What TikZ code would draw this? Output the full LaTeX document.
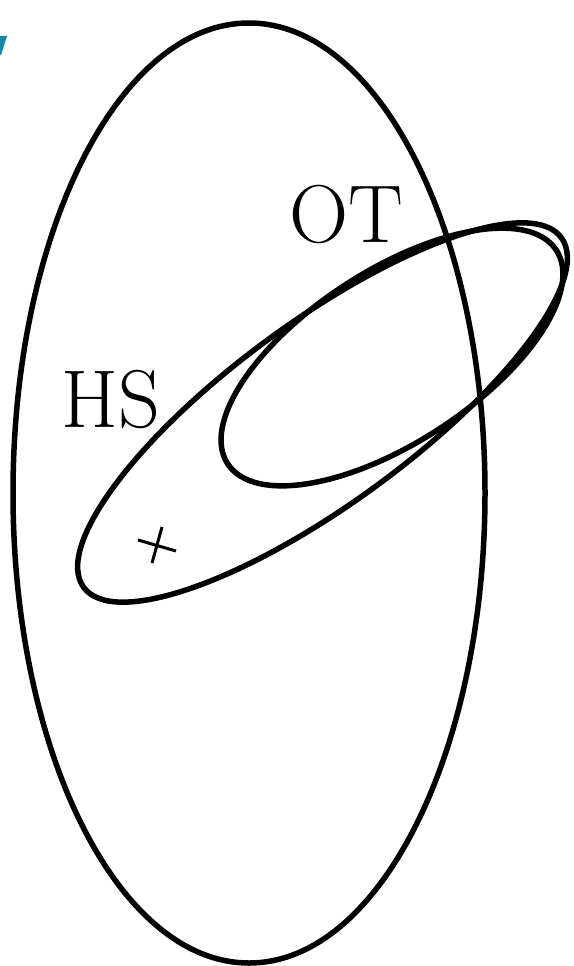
\documentclass[tikz,border=0pt]{standalone}
\usepackage{tikz}
\usetikzlibrary{calc}
\definecolor{fragblue}{RGB}{20,135,168}

\begin{document}
\begin{tikzpicture}[x=1pt, y=-1pt,
    set/.style={
            draw,
            line width=5.5pt
        },
    setname/.style={
            font=\fontsize{82}{90}\selectfont,
            anchor=base,
            inner sep=0pt
        },
    crossline/.style={
            draw,
            line width=3pt
        }
]
    \useasboundingbox (0,0) rectangle (573,966);

    % cut off piece in the corner
    \fill [fragblue] (0,36) -- (7,36) -- (1,55) -- (0,55) -- cycle;

    % the three sets
    \coordinate (all) at (249,493);
    \coordinate (hsc) at (322.5,412.5);
    \coordinate (otc) at (392,357);
    \draw [set] (all) ellipse [x radius=236, y radius=470];
    \draw [set, rotate around={36.2:(hsc)}] (hsc) ellipse [x radius=296, y radius=91];
    \draw [set, rotate around={33:(otc)}] (otc) ellipse [x radius=196, y radius=86];

    \node [setname] (hs) at (111,427) {HS};
    \node [setname] (ot) at (346,242) {OT};

    % the point
    \coordinate (pt) at (157,546);
    \draw [crossline] ($(pt)+(-19,-6)$) -- ($(pt)+(19,5)$);
    \draw [crossline] ($(pt)+(5,-19)$) -- ($(pt)+(-5,17)$);
\end{tikzpicture}
\end{document}
